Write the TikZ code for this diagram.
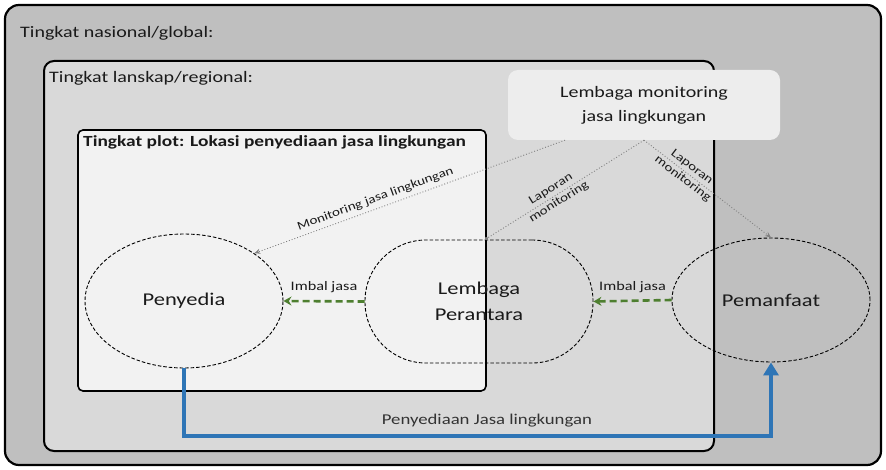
\documentclass[tikz,border=0pt]{standalone}
\usepackage{fontspec}
\setmainfont{Carlito}[FakeStretch=1.25]
\usetikzlibrary{arrows.meta,calc,shapes.geometric}
\definecolor{natfill}{HTML}{BFBFBF}
\definecolor{landfill}{HTML}{D9D9D9}
\definecolor{plotfill}{HTML}{F2F2F2}
\definecolor{monfill}{HTML}{EDEDED}
\definecolor{imbalgreen}{HTML}{4E7F30}
\definecolor{flowblue}{HTML}{2E75B6}
\definecolor{txt}{HTML}{1A1A1A}
\begin{document}
\begin{tikzpicture}[x=1pt,y=-1pt,
  levelbox/.style={draw=black, inner sep=0pt},
  lvltitle/.style={anchor=west, inner sep=0pt, text=txt, font=\fontsize{16}{19}\selectfont},
  actor/.style={draw=black, dash pattern=on 3.5pt off 2pt, line width=0.9pt, inner sep=0pt, text=txt, align=center, font=\fontsize{18}{26}\selectfont},
  report/.style={draw=black!50, dotted, line width=0.9pt},
  replabel/.style={text=txt, align=center, inner sep=1pt, font=\fontsize{12}{15}\selectfont},
  imbalarrow/.style={draw=imbalgreen, line width=2.6pt, dash pattern=on 7pt off 4pt, -{Stealth[length=8pt,width=9pt]}},
  imballabel/.style={text=txt, inner sep=0pt, font=\fontsize{13}{15}\selectfont},
  flowarrow/.style={draw=flowblue, line width=4pt, -{Triangle[width=15pt,length=13pt]}},
]
\useasboundingbox (0,0) rectangle (886,470);

% containers
\node[levelbox, line width=2.2pt, fill=natfill, rounded corners=14pt, minimum width=876pt, minimum height=460pt] (national) at (443,235) {};
\node[lvltitle] (natlabel) at (20,33) {Tingkat nasional/global:};

\node[levelbox, line width=2pt, fill=landfill, rounded corners=10pt, minimum width=670pt, minimum height=390pt] (land) at (379,256) {};
\node[lvltitle] (landlabel) at (49,78) {Tingkat lanskap/regional:};

\node[levelbox, line width=1.6pt, fill=plotfill, rounded corners=5pt, minimum width=408pt, minimum height=261pt] (plot) at (282,260.5) {};
\node[lvltitle, font=\fontsize{15.5}{18}\selectfont\bfseries] (plotlabel) at (83,142) {Tingkat plot: Lokasi penyediaan jasa lingkungan};

% actors
\node[actor, ellipse, minimum width=198pt, minimum height=134pt] (peny) at (184,301) {Penyedia};
\node[actor, rectangle, rounded corners=61pt, minimum width=228pt, minimum height=123pt] (per) at (479,301.5) {Lembaga\\Perantara};
\node[actor, ellipse, minimum width=198pt, minimum height=124pt] (pem) at (771,300) {Pemanfaat};

% monitoring institution
\node[fill=monfill, rounded corners=10pt, minimum width=272pt, minimum height=70pt, inner sep=0pt, align=center, text=txt, font=\fontsize{16}{24}\selectfont] (mon) at (644,105) {Lembaga monitoring\\jasa lingkungan};

% reporting / monitoring lines
\draw[report, -{Stealth[length=6pt,width=5pt]}] ([xshift=-79pt]mon.south) -- node[replabel, pos=0.6, sloped, above=3pt] {Monitoring jasa lingkungan} (peny.north east);
\draw[report, -{Circle[length=3.5pt]}] (mon.south) -- node[replabel, pos=0.56, sloped] {Laporan\\monitoring} ([xshift=6pt]per.north);
\draw[report, -{Stealth[length=6pt,width=5pt]}] (mon.south) -- node[replabel, pos=0.34, sloped] {Laporan\\monitoring} (pem.north);

% imbal jasa
\draw[imbalarrow] (per.west) -- node[imballabel, above=7pt] {Imbal jasa} (peny.east);
\draw[imbalarrow] (pem.west) -- node[imballabel, above=7pt] {Imbal jasa} (per.east);

% provision of environmental services
\draw[flowarrow] (peny.south) -- ++(0,68) -| node[pos=0.258, above=7pt, inner sep=0pt, text=black!80, font=\fontsize{15}{17}\selectfont] {Penyediaan Jasa lingkungan} (pem.south);
\end{tikzpicture}
\end{document}
